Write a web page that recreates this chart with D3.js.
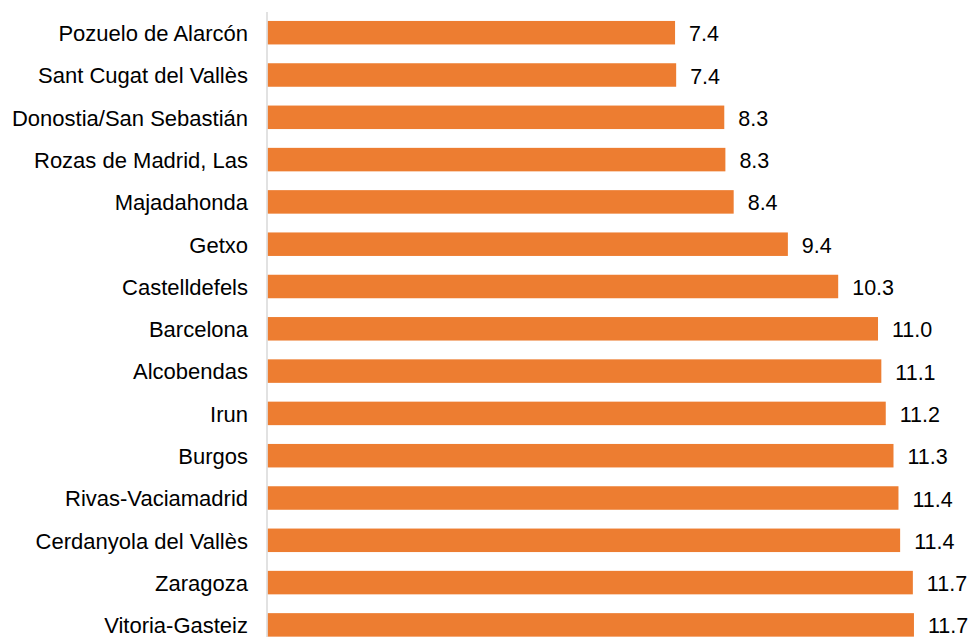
<!DOCTYPE html>
<html>
<head>
<meta charset="utf-8">
<script src="https://cdn.jsdelivr.net/npm/d3@7"></script>
<style>
html,body{margin:0;padding:0;background:#fff;}
svg{display:block;}
</style>
</head>
<body>
<svg id="chart" width="974" height="637"></svg>
<script>
const categories = ["Pozuelo de Alarcón","Sant Cugat del Vallès","Donostia/San Sebastián","Rozas de Madrid, Las","Majadahonda","Getxo","Castelldefels","Barcelona","Alcobendas","Irun","Burgos","Rivas-Vaciamadrid","Cerdanyola del Vallès","Zaragoza","Vitoria-Gasteiz"];
const values = [7.37,7.39,8.26,8.28,8.43,9.41,10.32,11.04,11.10,11.18,11.32,11.41,11.44,11.67,11.69];
const labels = ["7.4","7.4","8.3","8.3","8.4","9.4","10.3","11.0","11.1","11.2","11.3","11.4","11.4","11.7","11.7"];

const svg = d3.select("#chart");
const x0 = 267.5, pxPerUnit = 55.3;
const x = d3.scaleLinear().domain([0, 12.5]).range([x0, x0 + 12.5 * pxPerUnit]);
const step = 42.3, yStart = 11.55;
const y = d3.scaleBand().domain(categories)
  .range([yStart, yStart + categories.length * step])
  .paddingInner(1 - 23.5 / step).paddingOuter((1 - 23.5 / step) / 2);

svg.append("g").selectAll("rect").data(categories).join("rect")
  .attr("x", x(0))
  .attr("y", d => y(d))
  .attr("width", (d,i) => x(values[i]) - x(0))
  .attr("height", y.bandwidth())
  .attr("fill", "#ED7D31");

svg.append("line")
  .attr("x1", 267).attr("x2", 267)
  .attr("y1", 12).attr("y2", 637)
  .attr("stroke", "#d9d9d9").attr("stroke-width", 1.5);

svg.append("g").selectAll("text").data(categories).join("text")
  .attr("x", 248)
  .attr("y", d => y(d) + y.bandwidth()/2 + 8.3)
  .attr("text-anchor", "end")
  .attr("font-family", "Liberation Sans, Arial, sans-serif")
  .attr("font-size", 22)
  .attr("fill", "#000")
  .text(d => d);

svg.append("g").selectAll("text").data(categories).join("text")
  .attr("x", (d,i) => x(values[i]) + 14)
  .attr("y", d => y(d) + y.bandwidth()/2 + 8.5)
  .attr("font-family", "Liberation Sans, Arial, sans-serif")
  .attr("font-size", 21.5)
  .attr("fill", "#000")
  .text((d,i) => labels[i]);
</script>
</body>
</html>
